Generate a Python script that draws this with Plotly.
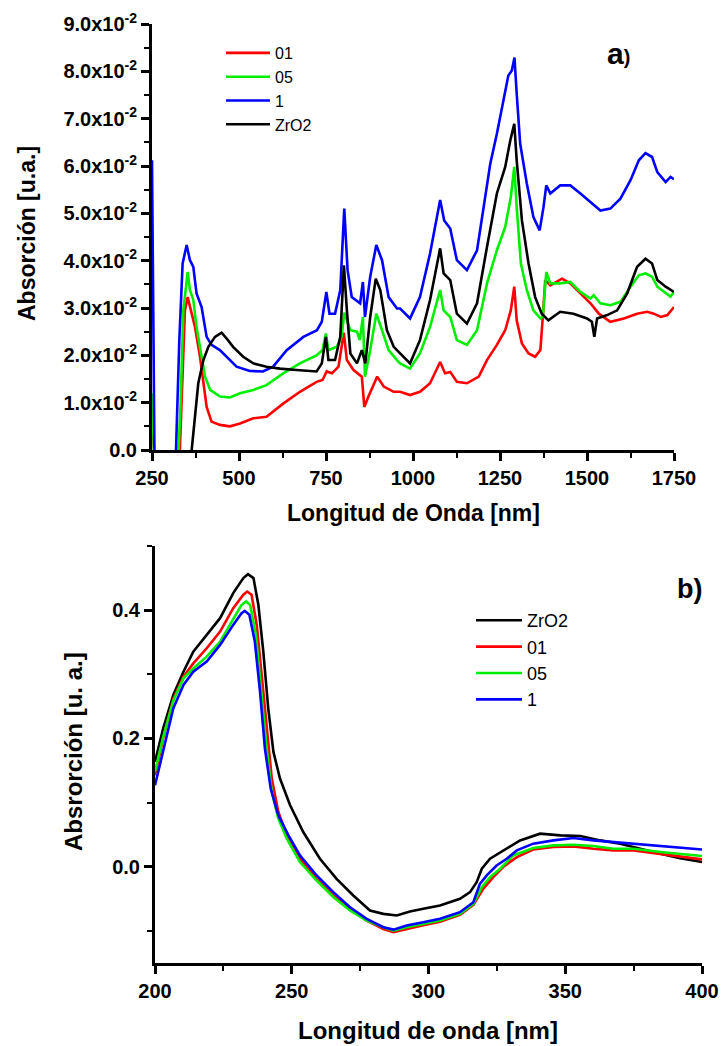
import plotly.graph_objects as go

# ---------------- Panel a) data (NIR/VIS absorption) ----------------
wl_a_01 = [250, 256, 260, 325, 330, 338, 344.6, 352.5, 359, 373.5, 388, 397.7, 407, 421, 445, 474, 503, 541, 579, 627,
           675, 723, 740, 752, 767, 786, 801, 810, 829, 853, 860, 872, 897, 916, 944.6, 963, 991.5, 1020, 1049, 1078,
           1092, 1107, 1126, 1155, 1189, 1212.6, 1241, 1265, 1281, 1291, 1298, 1313, 1332, 1351, 1366, 1373, 1380,
           1394.6, 1428, 1452, 1481, 1510, 1534, 1567, 1606, 1644, 1673, 1692, 1712, 1731, 1750]
abs_a_01 = [0.006, 0.0, -0.01, -0.01, 0.0, 0.0141, 0.0295, 0.0323, 0.0302, 0.026, 0.0197, 0.0141, 0.0091, 0.006, 0.0053,
            0.005, 0.0056, 0.0067, 0.007, 0.0098, 0.0123, 0.0144, 0.0148, 0.0166, 0.0162, 0.0176, 0.0248, 0.019, 0.0169,
            0.0155, 0.0091, 0.0113, 0.0155, 0.0134, 0.0123, 0.0123, 0.0116, 0.0123, 0.0141, 0.0186, 0.0162, 0.0165,
            0.0144, 0.0141, 0.0155, 0.019, 0.0222, 0.0253, 0.0295, 0.0345, 0.0274, 0.0225, 0.0204, 0.0197, 0.0211,
            0.0281, 0.0359, 0.0348, 0.0362, 0.0352, 0.0331, 0.031, 0.0288, 0.0271, 0.0278, 0.0288, 0.0292, 0.0288,
            0.0281, 0.0285, 0.0302]

wl_a_05 = [250, 256, 260, 320, 325.6, 332, 340, 352.5, 359, 368.7, 378, 388, 402.5, 417, 445.4, 474, 503, 541, 579, 627,
           675, 723, 740, 749.6, 757, 781, 795, 802.5, 820, 839, 847, 856, 862, 877, 894.6, 911, 930, 954, 963, 991.5,
           1020, 1049, 1078, 1088, 1107, 1126, 1155, 1184, 1212.6, 1241, 1265, 1281, 1291, 1298, 1310, 1327, 1346,
           1366, 1373, 1383, 1394.6, 1423, 1452, 1481, 1510, 1519, 1538.6, 1567, 1596, 1625, 1649, 1668, 1687, 1702,
           1726, 1740, 1750]
abs_a_05 = [0.012, 0.0, -0.01, -0.01, 0.0, 0.0091, 0.0295, 0.0376, 0.0338, 0.0317, 0.026, 0.0218, 0.0155, 0.0127,
            0.0113, 0.0111, 0.012, 0.0127, 0.0137, 0.0162, 0.0183, 0.02, 0.0211, 0.0246, 0.0211, 0.0218, 0.0239, 0.029,
            0.0253, 0.025, 0.0232, 0.0281, 0.0155, 0.0211, 0.0288, 0.0253, 0.0211, 0.019, 0.0183, 0.0172, 0.0204, 0.026,
            0.0338, 0.0295, 0.0281, 0.0232, 0.0222, 0.0253, 0.0352, 0.0422, 0.0471, 0.0534, 0.0598, 0.0513, 0.0394,
            0.0338, 0.0295, 0.0278, 0.0281, 0.0376, 0.0352, 0.0352, 0.0355, 0.0334, 0.032, 0.0327, 0.031, 0.0306,
            0.0313, 0.0345, 0.0369, 0.0373, 0.0366, 0.0345, 0.0331, 0.0324, 0.0334]

wl_a_1 = [250, 257, 262, 315, 319, 328.5, 338, 349.6, 359, 368.7, 378, 392.5, 407, 421, 445, 464, 493, 531, 569, 598,
          637, 685, 724, 738, 751, 760, 776, 791, 802.5, 812, 824, 848, 856, 862, 877, 894.6, 911, 930, 954, 963, 991.5,
          1020, 1049, 1078, 1089.6, 1107, 1126, 1155, 1184, 1203, 1222, 1241, 1260, 1274, 1284, 1291.6, 1298, 1308,
          1327, 1346, 1364, 1375, 1383, 1394.6, 1423, 1452, 1481, 1510, 1538.6, 1567, 1596, 1625, 1649, 1668, 1687,
          1702, 1726, 1740, 1750]
abs_a_1 = [0.0612, 0.0, -0.01, -0.01, 0.0, 0.0232, 0.0394, 0.0433, 0.0401, 0.0387, 0.0331, 0.0302, 0.0239, 0.0222,
           0.0211, 0.0197, 0.0176, 0.0167, 0.0166, 0.0176, 0.0211, 0.0239, 0.0253, 0.0271, 0.0334, 0.0288, 0.0288,
           0.0338, 0.051, 0.038, 0.0323, 0.031, 0.0355, 0.0281, 0.0366, 0.0433, 0.0401, 0.0323, 0.0299, 0.0299, 0.0278,
           0.0323, 0.0415, 0.0528, 0.0485, 0.0468, 0.0401, 0.038, 0.0422, 0.0513, 0.0605, 0.0668, 0.0739, 0.0791,
           0.0802, 0.0829, 0.0753, 0.0647, 0.0563, 0.0492, 0.0464, 0.0513, 0.0559, 0.0542, 0.0559, 0.0559, 0.0542,
           0.0524, 0.0506, 0.051, 0.0531, 0.057, 0.0612, 0.0627, 0.0619, 0.0587, 0.0566, 0.0577, 0.0572]

wl_a_zr = [360, 364, 373.5, 383, 397.7, 412, 431, 450, 464, 483, 512, 541, 579, 617.8, 665.7, 723, 738, 749.6, 757, 776,
           791, 801.5, 810, 820, 839, 853, 863, 877, 893, 906, 925, 944.6, 963, 991.5, 1020, 1049, 1078, 1088, 1107,
           1126, 1155, 1184, 1212.6, 1241, 1265, 1279.5, 1291, 1298, 1313, 1332, 1351, 1370, 1389, 1423, 1461, 1500,
           1514, 1521, 1529, 1558, 1586.6, 1615.5, 1644, 1668, 1687, 1702, 1726, 1750]
abs_a_zr = [-0.003, 0.0, 0.007, 0.0141, 0.019, 0.0218, 0.0239, 0.0248, 0.0236, 0.0218, 0.0197, 0.0183, 0.0176, 0.0172,
            0.0169, 0.0166, 0.0183, 0.0239, 0.019, 0.019, 0.0239, 0.039, 0.0295, 0.0204, 0.0183, 0.0211, 0.0183, 0.0281,
            0.0362, 0.0338, 0.0253, 0.0218, 0.0204, 0.0183, 0.0232, 0.0317, 0.0426, 0.0373, 0.0359, 0.0288, 0.0267,
            0.031, 0.0429, 0.0542, 0.0598, 0.0654, 0.0689, 0.0612, 0.0485, 0.0394, 0.0323, 0.0288, 0.0274, 0.0292,
            0.0288, 0.0278, 0.0271, 0.0239, 0.0278, 0.0285, 0.0295, 0.0331, 0.0387, 0.0404, 0.0394, 0.0359, 0.0345,
            0.0334]

# ---------------- Panel b) data (UV absorption) ----------------
wl_b_zr = [200, 203, 206.7, 210.4, 214, 218.9, 223.8, 228.6, 232.3, 234, 236, 237.8, 239.6, 241.4, 243.3, 245.7, 249.4,
           254.2, 260.3, 266.4, 272.5, 278.6, 283.5, 288.4, 293.2, 298.1, 304.2, 311.5, 315.2, 317.6, 319.5, 322.5,
           327.4, 333.5, 340.8, 348.2, 355.5, 362.8, 370.1, 377.4, 384.8, 392, 400]
abs_b_zr = [0.1636, 0.2156, 0.2677, 0.304, 0.3354, 0.3615, 0.3875, 0.4266, 0.45, 0.456, 0.45, 0.408, 0.3354, 0.247,
            0.179, 0.1375, 0.0958, 0.0542, 0.0125, -0.0188, -0.0448, -0.0682, -0.0734, -0.076, -0.0698, -0.0656,
            -0.0604, -0.05, -0.0396, -0.024, -0.003, 0.0125, 0.0255, 0.0411, 0.0516, 0.049, 0.048, 0.0411, 0.036,
            0.028, 0.0203, 0.0135, 0.0073]

wl_b_01 = [200, 203, 206.7, 210.4, 214, 218.9, 223.8, 228.6, 232.3, 233.7, 235.3, 237.2, 239, 240.9, 242.7, 245.1,
           248.2, 253, 259.1, 265.2, 271.3, 277.4, 283.5, 287.2, 292, 298.1, 304.2, 311.5, 316.4, 320, 323.7, 327.4,
           332.3, 338.3, 345.7, 353, 360.3, 367.6, 375, 384.8, 400]
abs_b_01 = [0.1427, 0.2, 0.2615, 0.2964, 0.317, 0.3406, 0.3667, 0.403, 0.424, 0.429, 0.424, 0.377, 0.299, 0.2104,
            0.1375, 0.0854, 0.0489, 0.0125, -0.0188, -0.0448, -0.0656, -0.0839, -0.0969, -0.102, -0.0969, -0.091,
            -0.0855, -0.075, -0.0594, -0.0344, -0.0161, 0.0, 0.0151, 0.027, 0.0307, 0.0318, 0.028, 0.0255, 0.0255,
            0.0203, 0.0115]

wl_b_05 = [200, 203, 206.7, 210.4, 214, 218.9, 223.8, 228.6, 231.6, 233.3, 234.8, 236.9, 238.7, 240.7, 242.7, 245.1,
           248.2, 253, 259.1, 265.2, 271.3, 277.4, 283.5, 287.2, 292, 298.1, 304.2, 311.5, 316.4, 319.5, 322.5, 326.2,
           331, 338.3, 345.7, 353, 360.3, 367.6, 375, 384.8, 400]
abs_b_05 = [0.148, 0.2026, 0.259, 0.2937, 0.309, 0.3276, 0.351, 0.3875, 0.408, 0.4135, 0.408, 0.3615, 0.2833, 0.1896,
            0.1167, 0.075, 0.0438, 0.0073, -0.0214, -0.047, -0.068, -0.0839, -0.0943, -0.0995, -0.0943, -0.0885,
            -0.0839, -0.0734, -0.0578, -0.0318, -0.0161, -0.003, 0.0177, 0.0292, 0.0333, 0.0344, 0.0323, 0.028, 0.028,
            0.023, 0.0167]

wl_b_1 = [200, 203, 206.7, 210.4, 214, 218.9, 223.8, 228.6, 231.6, 232.8, 234.5, 236.5, 238.4, 240.2, 242.3, 245.1,
          248.8, 253, 259.1, 265.2, 271.3, 277.4, 283.5, 287.2, 292, 298.1, 304.2, 311.5, 316.4, 318.8, 321.3, 324.9,
          328.6, 332.3, 338.3, 345.7, 353, 360.3, 367.6, 375, 384.8, 400]
abs_b_1 = [0.127, 0.179, 0.247, 0.2833, 0.304, 0.32, 0.3458, 0.377, 0.395, 0.399, 0.393, 0.351, 0.273, 0.184, 0.122,
           0.08, 0.0489, 0.0177, -0.0136, -0.0396, -0.063, -0.0813, -0.0943, -0.098, -0.0917, -0.0865, -0.081,
           -0.0708, -0.0552, -0.0266, -0.0135, 0.002, 0.0125, 0.0255, 0.036, 0.0411, 0.0448, 0.0411, 0.0386, 0.036,
           0.0333, 0.027]

# tick labels
a_ytick_vals = [0.0, 0.01, 0.02, 0.03, 0.04, 0.05, 0.06, 0.07, 0.08, 0.09]
a_ytick_text = ["0.0", "1.0x10<sup>-2</sup>", "2.0x10<sup>-2</sup>", "3.0x10<sup>-2</sup>", "4.0x10<sup>-2</sup>",
                "5.0x10<sup>-2</sup>", "6.0x10<sup>-2</sup>", "7.0x10<sup>-2</sup>", "8.0x10<sup>-2</sup>",
                "9.0x10<sup>-2</sup>"]
b_ytick_vals = [0.0, 0.2, 0.4]
b_ytick_text = ["0.0", "0.2", "0.4"]

RED, GREEN, BLUE, BLACK = "#ff0000", "#00ee00", "#0000ff", "#000000"
FONT = "Arial, Liberation Sans, sans-serif"
W, H = 723, 1046

fig = go.Figure()

for name, x, y, c in [("01", wl_a_01, abs_a_01, RED), ("05", wl_a_05, abs_a_05, GREEN),
                      ("1", wl_a_1, abs_a_1, BLUE), ("ZrO2", wl_a_zr, abs_a_zr, BLACK)]:
    fig.add_trace(go.Scatter(x=x, y=y, mode="lines", name=name, line=dict(color=c, width=2.6),
                             xaxis="x", yaxis="y", legend="legend"))

for name, x, y, c in [("ZrO2", wl_b_zr, abs_b_zr, BLACK), ("01", wl_b_01, abs_b_01, RED),
                      ("05", wl_b_05, abs_b_05, GREEN), ("1", wl_b_1, abs_b_1, BLUE)]:
    fig.add_trace(go.Scatter(x=x, y=y, mode="lines", name=name, line=dict(color=c, width=2.6),
                             xaxis="x2", yaxis="y2", legend="legend2"))


def px_x(p):
    return p / W


def px_y(p):
    return 1 - p / H


axis_common = dict(showline=True, linecolor="black", linewidth=3, ticks="outside", ticklen=8, tickwidth=2.5,
                   tickcolor="black", showgrid=False, zeroline=False, automargin=False,
                   tickfont=dict(family=FONT, size=20, color="black", weight="bold"))

fig.update_layout(
    width=W, height=H, margin=dict(l=0, r=0, t=0, b=0, pad=0, autoexpand=False),
    paper_bgcolor="white", plot_bgcolor="white",
    xaxis=dict(domain=[px_x(152), px_x(674)], range=[250, 1750], anchor="y", tickmode="array",
               tickvals=[250, 500, 750, 1000, 1250, 1500, 1750],
               minor=dict(ticks="outside", ticklen=5, tickwidth=2, tickcolor="black", tick0=250, dtick=125),
               **axis_common),
    yaxis=dict(domain=[px_y(450), px_y(24)], range=[0, 0.09], anchor="x", tickmode="array",
               tickvals=a_ytick_vals, ticktext=a_ytick_text,
               minor=dict(ticks="outside", ticklen=5, tickwidth=2, tickcolor="black", tick0=0, dtick=0.005),
               **axis_common),
    xaxis2=dict(domain=[px_x(155), px_x(702)], range=[200, 400], anchor="y2", tickmode="array",
                tickvals=[200, 250, 300, 350, 400],
                minor=dict(ticks="outside", ticklen=5, tickwidth=2, tickcolor="black", tick0=200, dtick=25),
                **axis_common),
    yaxis2=dict(domain=[px_y(963), px_y(546)], range=[-0.15, 0.5], anchor="x2", tickmode="array",
                tickvals=b_ytick_vals, ticktext=b_ytick_text,
                minor=dict(ticks="outside", ticklen=5, tickwidth=2, tickcolor="black", tick0=0, dtick=0.1),
                **axis_common),
    legend=dict(x=px_x(221), y=px_y(36), xanchor="left", yanchor="top", bgcolor="rgba(0,0,0,0)",
                font=dict(family=FONT, size=16, color="black"), itemwidth=44, tracegroupgap=0),
    legend2=dict(x=px_x(471), y=px_y(602), xanchor="left", yanchor="top", bgcolor="rgba(0,0,0,0)",
                 font=dict(family=FONT, size=18, color="black"), itemwidth=46, tracegroupgap=0),
    annotations=[
        dict(text="<b>Absorción [u.a.]</b>", x=px_x(27), y=px_y(234), xref="paper", yref="paper",
             xanchor="center", yanchor="middle",
             textangle=-90, showarrow=False, font=dict(family=FONT, size=23, color="black")),
        dict(text="<b>Longitud de Onda [nm]</b>", x=px_x(413), y=px_y(513), xref="paper", yref="paper",
             xanchor="center", yanchor="middle",
             showarrow=False, font=dict(family=FONT, size=23, color="black")),
        dict(text="<b>Absrorción [u. a.]</b>", x=px_x(73), y=px_y(752), xref="paper", yref="paper",
             xanchor="center", yanchor="middle",
             textangle=-90, showarrow=False, font=dict(family=FONT, size=24, color="black")),
        dict(text="<b>Longitud de onda [nm]</b>", x=px_x(428), y=px_y(1030), xref="paper", yref="paper",
             xanchor="center", yanchor="middle",
             showarrow=False, font=dict(family=FONT, size=24, color="black")),
        dict(text="<b><span style='font-size:30px'>a</span>)</b>", x=px_x(618), y=px_y(54), xref="paper",
             yref="paper", xanchor="center", yanchor="middle",
             showarrow=False, font=dict(family=FONT, size=20, color="black")),
        dict(text="<b>b)</b>", x=px_x(689), y=px_y(589), xref="paper", yref="paper",
             xanchor="center", yanchor="middle",
             showarrow=False, font=dict(family=FONT, size=27, color="black")),
    ],
)

fig.write_html("out.html")
